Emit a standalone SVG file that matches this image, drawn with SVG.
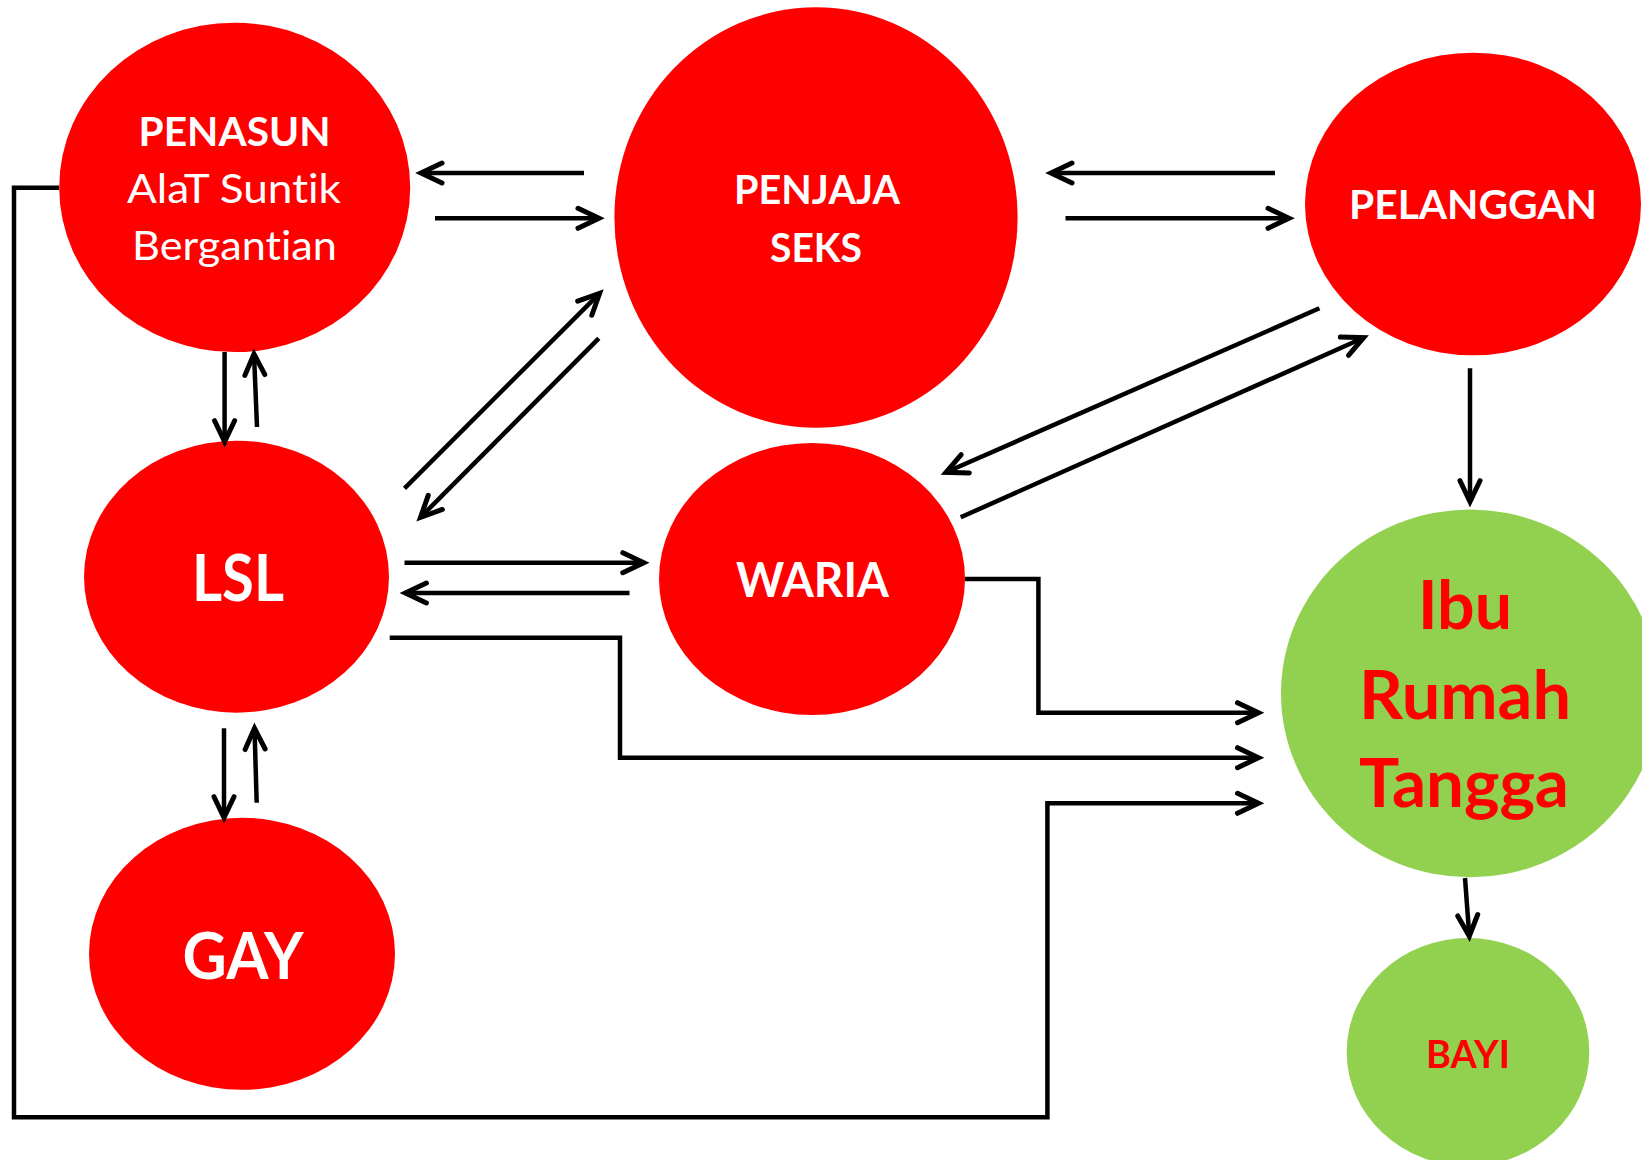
<svg xmlns="http://www.w3.org/2000/svg" width="1642" height="1160" viewBox="0 0 1642 1160">
<style>
.red{fill:#FF0000}
.green{fill:#92D050}
.w{fill:#FFFFFF;font-family:Lato,"Open Sans","Liberation Sans",sans-serif;text-anchor:middle;font-variant-ligatures:none;font-feature-settings:"liga" 0}
.r{fill:#FF0000;font-family:Lato,"Open Sans","Liberation Sans",sans-serif;text-anchor:middle;font-weight:bold;font-variant-ligatures:none;font-feature-settings:"liga" 0}
.b{font-weight:bold}
.c{fill:none;stroke:#000;stroke-width:4.5;stroke-linejoin:miter}
</style>
<defs>
<marker id="ah" markerUnits="userSpaceOnUse" viewBox="-30 -16 36 32" markerWidth="36" markerHeight="32" refX="0" refY="0" orient="auto" overflow="visible">
<path d="M-21,-10 L0,0 L-21,10" fill="none" stroke="#000" stroke-width="5" stroke-linecap="round" stroke-linejoin="miter"/>
</marker>
</defs>
<rect width="1642" height="1160" fill="#FFFFFF"/>
<g id="penasun">
<ellipse class="red" cx="234.7" cy="187.4" rx="175.5" ry="164.7"/>
<text class="w b" x="234.5" y="145.7" font-size="40.5" textLength="192" lengthAdjust="spacingAndGlyphs">PENASUN</text>
<text class="w" x="234" y="202.7" font-size="41" textLength="214" lengthAdjust="spacingAndGlyphs">AlaT Suntik</text>
<text class="w" x="234.5" y="260" font-size="41" textLength="205" lengthAdjust="spacingAndGlyphs">Bergantian</text>
</g>
<g id="penjaja">
<ellipse class="red" cx="816" cy="217.5" rx="201.6" ry="210.2"/>
<text class="w b" x="817" y="204" font-size="39.5" textLength="166" lengthAdjust="spacingAndGlyphs">PENJAJA</text>
<text class="w b" x="816" y="262.3" font-size="39.5" textLength="92" lengthAdjust="spacingAndGlyphs">SEKS</text>
</g>
<g id="pelanggan">
<ellipse class="red" cx="1473" cy="204" rx="168" ry="151.3"/>
<text class="w b" x="1473" y="219.3" font-size="40" textLength="248" lengthAdjust="spacingAndGlyphs">PELANGGAN</text>
</g>
<g id="lsl">
<ellipse class="red" cx="236.5" cy="576.7" rx="152.5" ry="136"/>
<text class="w b" x="238" y="601.3" font-size="65" textLength="92" lengthAdjust="spacingAndGlyphs">LSL</text>
</g>
<g id="waria">
<ellipse class="red" cx="812" cy="579" rx="153" ry="136"/>
<text class="w b" x="812.4" y="596.7" font-size="47" textLength="153" lengthAdjust="spacingAndGlyphs">WARIA</text>
</g>
<g id="gay">
<ellipse class="red" cx="242" cy="953.8" rx="153" ry="136"/>
<text class="w b" x="243" y="979" font-size="65" textLength="121" lengthAdjust="spacingAndGlyphs">GAY</text>
</g>
<g id="ibu-rumah-tangga">
<ellipse class="green" cx="1470" cy="693.4" rx="189" ry="183.9"/>
<text class="r" x="1465" y="628.7" font-size="67" textLength="94" lengthAdjust="spacingAndGlyphs">Ibu</text>
<text class="r" x="1465" y="718.5" font-size="67" textLength="212" lengthAdjust="spacingAndGlyphs">Rumah</text>
<text class="r" x="1464" y="807.4" font-size="67" textLength="210" lengthAdjust="spacingAndGlyphs">Tangga</text>
</g>
<g id="bayi">
<ellipse class="green" cx="1468" cy="1052" rx="121.3" ry="114"/>
<text class="r" x="1468" y="1067.6" font-size="39" textLength="84" lengthAdjust="spacingAndGlyphs">BAYI</text>
</g>
<g id="connectors">
<path class="c" d="M584,173 L421,173" marker-end="url(#ah)"/>
<path class="c" d="M435,218.3 L599,218.3" marker-end="url(#ah)"/>
<path class="c" d="M1275,173 L1051,173" marker-end="url(#ah)"/>
<path class="c" d="M1065.5,218.3 L1289,218.3" marker-end="url(#ah)"/>
<path class="c" d="M224.6,352 L224.6,441.7" marker-end="url(#ah)"/>
<path class="c" d="M257,427 L254,354" marker-end="url(#ah)"/>
<path class="c" d="M404.5,488.3 L599.6,293.3" marker-end="url(#ah)"/>
<path class="c" d="M598.8,338.3 L420.5,517.3" marker-end="url(#ah)"/>
<path class="c" d="M404.5,562.7 L643.8,562.7" marker-end="url(#ah)"/>
<path class="c" d="M629.5,593 L405.4,593" marker-end="url(#ah)"/>
<path class="c" d="M224,728.3 L224,817.7" marker-end="url(#ah)"/>
<path class="c" d="M256.7,802.7 L254.5,728.3" marker-end="url(#ah)"/>
<path class="c" d="M1319.4,308.3 L946,472.3" marker-end="url(#ah)"/>
<path class="c" d="M960.7,517.3 L1363.6,337.7" marker-end="url(#ah)"/>
<path class="c" d="M1470,368.3 L1470,501.7" marker-end="url(#ah)"/>
<path class="c" d="M965,579 L1038.4,579 L1038.4,712.7 L1258.5,712.7" marker-end="url(#ah)"/>
<path class="c" d="M389.7,637.7 L620,637.7 L620,757.7 L1258.5,757.7" marker-end="url(#ah)"/>
<path class="c" d="M59,187.7 L14,187.7 L14,1117.3 L1047.4,1117.3 L1047.4,803.3 L1258.5,803.3" marker-end="url(#ah)"/>
<path class="c" d="M1465,878 L1469.3,936.2" marker-end="url(#ah)"/>
</g>
</svg>
